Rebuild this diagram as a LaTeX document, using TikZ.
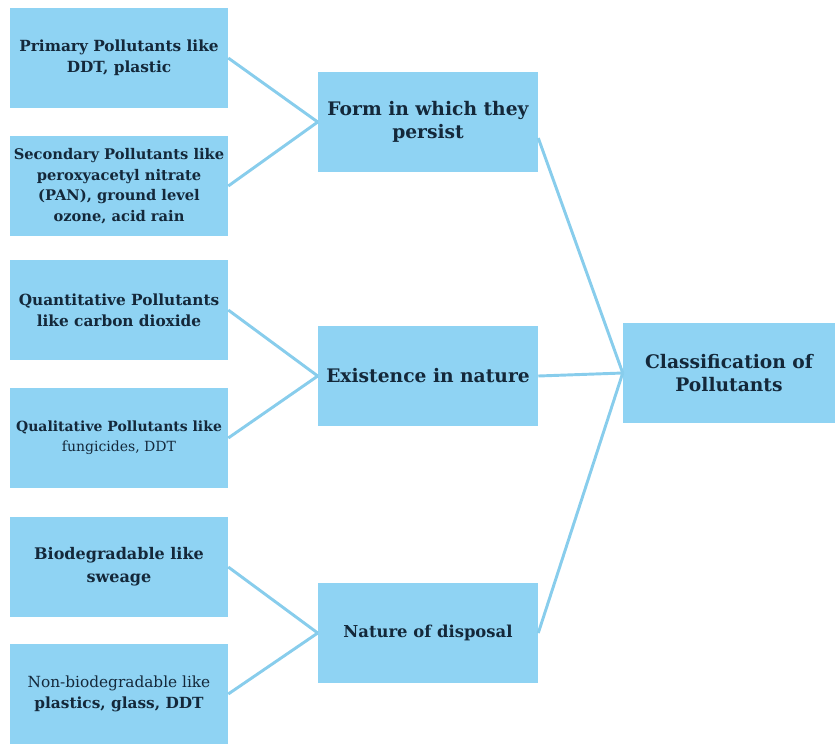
\documentclass[tikz,border=0pt]{standalone}
\usepackage{fontspec}
\setmainfont{DejaVu Serif}
\usetikzlibrary{positioning}
\definecolor{boxfill}{HTML}{8FD3F3}
\definecolor{wire}{HTML}{88CDEC}
\definecolor{ink}{HTML}{14283A}
\tikzset{
  font=\bfseries,
  %
  box/.style={
    fill=boxfill, draw=none, align=center, text=ink, inner sep=2pt,
  },
  leaf/.style={box, minimum width=163.5pt, minimum height=75pt,
               font=\bfseries\fontsize{11}{15.5}\selectfont},
  group/.style={box, minimum width=165pt, minimum height=75pt,
                font=\bfseries\fontsize{14}{17}\selectfont},
  root/.style={box, minimum width=159pt, minimum height=75pt,
               font=\bfseries\fontsize{14}{17}\selectfont},
  %
  link/.style={draw=wire, line width=2.2pt},
}

\begin{document}
\begin{tikzpicture}[x=0.75pt, y=-0.75pt]
\useasboundingbox (0,0) rectangle (835,744);

% ------------------------------------------------------------------ leaves
\node[leaf, font=\bfseries\fontsize{11.5}{16}\selectfont] (prim) at (119,58) {Primary Pollutants like\\DDT, plastic};
\node[leaf] (sec)  at (119,186) {Secondary Pollutants like\\peroxyacetyl nitrate\\(PAN), ground level\\ozone, acid rain};
\node[leaf, font=\bfseries\fontsize{11.5}{16}\selectfont] (quan) at (119,310) {Quantitative Pollutants\\like carbon dioxide};
\node[leaf, font=\bfseries\fontsize{10.5}{15}\selectfont] (qual) at (119,438) {Qualitative Pollutants like\\{\mdseries fungicides, DDT}};
\node[leaf, font=\bfseries\fontsize{12}{17}\selectfont] (bio) at (119,567) {Biodegradable like\\sweage};
\node[leaf, font=\bfseries\fontsize{11.5}{16}\selectfont] (nonbio) at (119,694) {{\mdseries Non-biodegradable like}\\plastics, glass, DDT};

% ------------------------------------------------------------------ groups
\node[group] (form)  at (428,122) {Form in which they\\persist};
\node[group] (exist) at (428,376) {Existence in nature};
\node[group, font=\bfseries\fontsize{12.3}{15}\selectfont] (disp) at (428,633) {Nature of disposal};

% -------------------------------------------------------------------- root
\node[root] (cls) at (729,373) {Classification of\\Pollutants};

% ------------------------------------------------------------------- links
\foreach \a/\b in {prim/form, sec/form, quan/exist, qual/exist, bio/disp, nonbio/disp}
  { \draw[link] (\a.east) -- (\b.west); }
\draw[link] ([yshift=-12pt]form.east) -- (cls.west);
\draw[link] (exist.east) -- (cls.west);
\draw[link] (disp.east) -- (cls.west);

\end{tikzpicture}
\end{document}
